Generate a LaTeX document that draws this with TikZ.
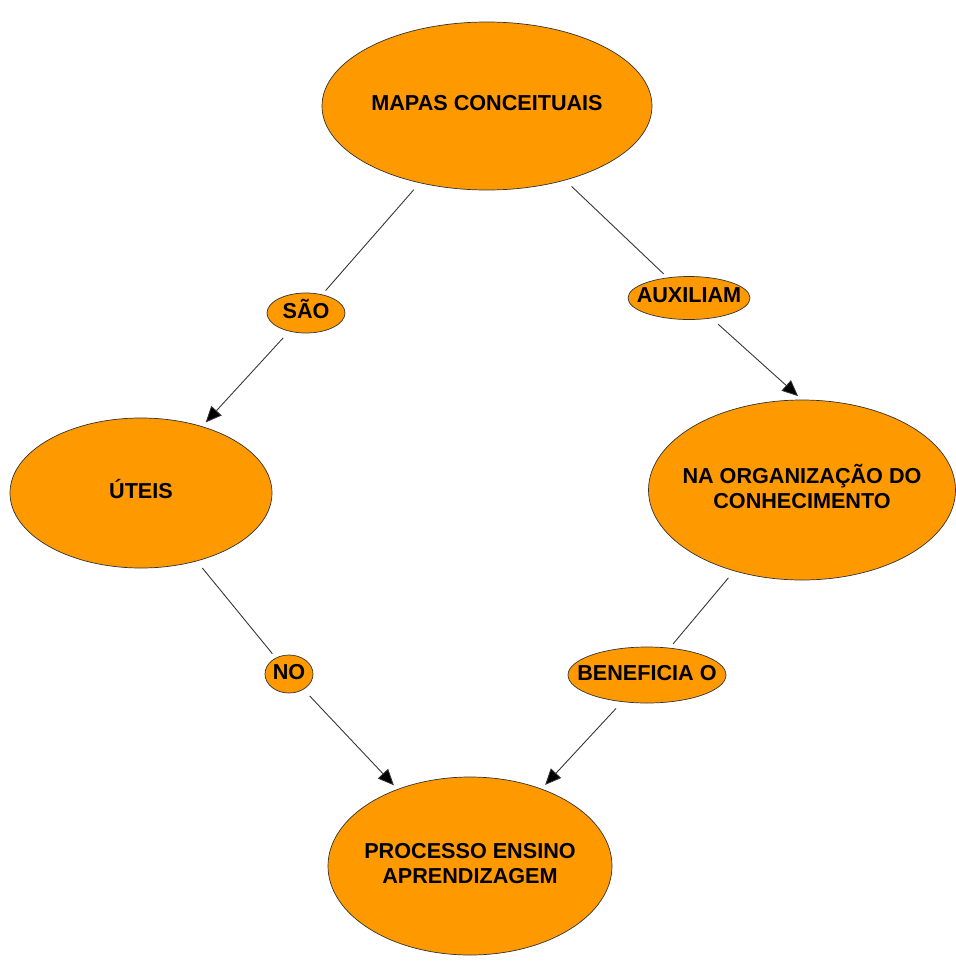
\documentclass[tikz,border=0pt]{standalone}
\usepackage{fontspec}
\setmainfont{Liberation Sans}
\usepackage{tikz}
\usetikzlibrary{arrows.meta,shapes.geometric}
\usepackage{xcolor}
\definecolor{mapfill}{RGB}{255,153,0}
\definecolor{linegray}{RGB}{50,50,50}

% text of an ellipse, kept out of its size
\newcommand{\ctext}[1]{\makebox[0pt]{\begin{tabular}{@{}c@{}}#1\end{tabular}}}

\begin{document}
\begin{tikzpicture}[
    concept/.style={ellipse, draw=black!80, fill=mapfill, inner sep=0pt, font=\fontsize{12.3}{14.2}\selectfont\bfseries},
    link/.style={draw=linegray, line width=0.5pt, shorten <=5pt, shorten >=3pt},
    arr/.style={link, -{Triangle[length=3.2mm, width=2.8mm, fill=black]}}
]
\useasboundingbox (0, 0) rectangle (19.1, -19.22);

% concepts
\node[concept, minimum width=6.6cm, minimum height=3.36cm] (mapas) at (9.74, -2.12) {\ctext{MAPAS CONCEITUAIS}};
\node[concept, minimum width=5.24cm, minimum height=3.0cm] (uteis) at (2.82, -9.86) {\ctext{ÚTEIS}};
\node[concept, minimum width=6.14cm, minimum height=3.6cm] (org) at (16.04, -9.8) {\ctext{NA ORGANIZAÇÃO DO\\CONHECIMENTO}};
\node[concept, minimum width=5.68cm, minimum height=3.56cm] (proc) at (9.4, -17.32) {\ctext{PROCESSO ENSINO\\APRENDIZAGEM}};

% linking words
\node[concept, minimum width=1.56cm, minimum height=0.8cm] (sao) at (6.12, -6.26) {\ctext{SÃO}};
\node[concept, minimum width=2.44cm, minimum height=0.86cm] (aux) at (13.78, -5.96) {\ctext{AUXILIAM}};
\node[concept, minimum width=0.96cm, minimum height=0.76cm] (no) at (5.78, -13.48) {\ctext{NO}};
\node[concept, minimum width=3.16cm, minimum height=1.12cm] (benef) at (12.94, -13.5) {\ctext{BENEFICIA O}};

% connectors
\draw[link] (mapas) -- (sao);
\draw[arr] (sao) -- (uteis);
\draw[link] (mapas) -- (aux);
\draw[arr] (aux) -- (org.north);
\draw[link] (uteis) -- (no);
\draw[arr] (no) -- (proc);
\draw[link] (org) -- (benef);
\draw[arr] (benef) -- (proc);

\end{tikzpicture}
\end{document}
